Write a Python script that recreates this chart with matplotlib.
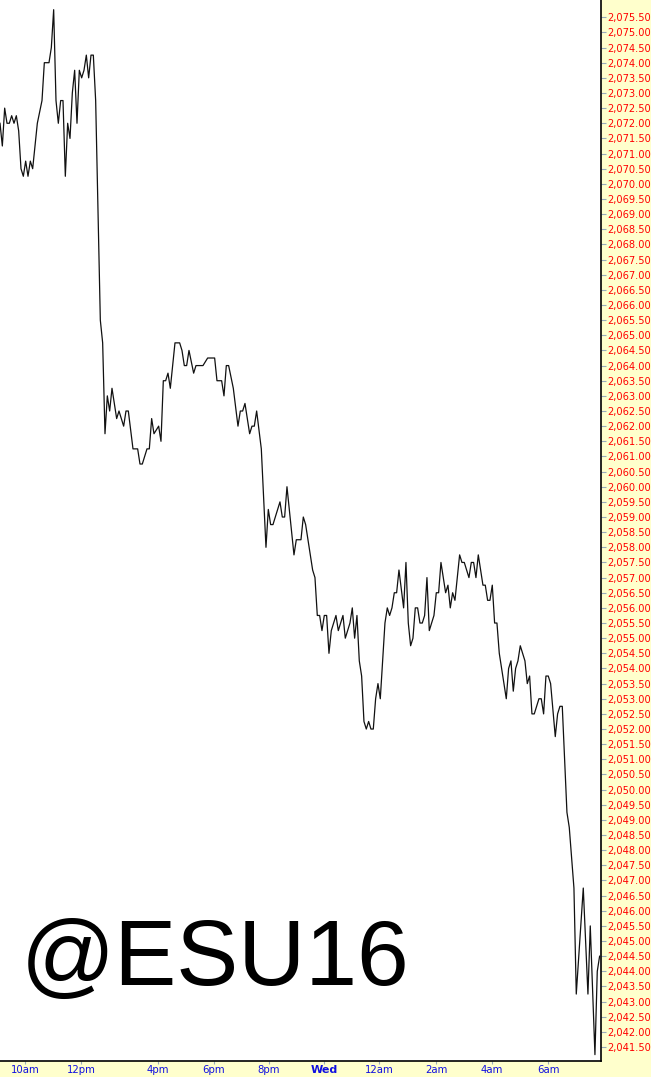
import matplotlib
matplotlib.use('Agg')
import matplotlib.pyplot as plt
from matplotlib.ticker import FixedLocator, FuncFormatter

# 5-minute bar index and price of each vertex
bars = [0, 1, 2, 3, 4, 5, 6, 7, 8, 9, 10, 11, 12, 13, 14, 16, 18, 19, 21, 22,
        23, 24, 25, 26, 27, 28, 29, 30, 31, 32, 33, 34, 35, 36, 37, 38, 39, 40, 41, 43,
        44, 45, 46, 47, 48, 50, 51, 53, 54, 55, 57, 59, 60, 61, 63, 64, 65, 66, 68, 69,
        70, 71, 72, 73, 75, 77, 78, 79, 80, 81, 83, 84, 87, 89, 92, 93, 95, 96, 97, 98,
        100, 102, 103, 104, 105, 107, 108, 109, 110, 112, 114, 115, 116, 117, 120, 121, 122, 123, 124, 126,
        127, 129, 130, 131, 134, 135, 136, 137, 138, 139, 140, 141, 142, 144, 145, 147, 148, 150, 151, 152,
        153, 154, 155, 156, 157, 158, 159, 160, 161, 162, 163, 165, 166, 167, 168, 169, 170, 171, 173, 174,
        175, 176, 177, 178, 179, 180, 181, 182, 183, 184, 186, 187, 188, 189, 191, 192, 193, 194, 195, 197,
        198, 199, 201, 202, 203, 204, 205, 207, 208, 209, 210, 211, 212, 213, 214, 217, 218, 219, 220, 221,
        222, 223, 225, 226, 227, 228, 229, 231, 232, 233, 234, 235, 236, 238, 239, 240, 241, 243, 244, 246,
        247, 250, 252, 253, 255, 256, 257]
prices = [2072.0, 2071.25, 2072.5, 2072.0, 2072.0, 2072.25, 2072.0, 2072.25, 2071.75, 2070.5,
          2070.25, 2070.75, 2070.25, 2070.75, 2070.5, 2072.0, 2072.75, 2074.0, 2074.0, 2074.5,
          2075.75, 2072.75, 2072.0, 2072.75, 2072.75, 2070.25, 2072.0, 2071.5, 2073.0, 2073.75,
          2072.0, 2073.75, 2073.5, 2073.75, 2074.25, 2073.5, 2074.25, 2074.25, 2072.75, 2065.5,
          2064.75, 2061.75, 2063.0, 2062.5, 2063.25, 2062.25, 2062.5, 2062.0, 2062.5, 2062.5,
          2061.25, 2061.25, 2060.75, 2060.75, 2061.25, 2061.25, 2062.25, 2061.75, 2062.0, 2061.5,
          2063.5, 2063.5, 2063.75, 2063.25, 2064.75, 2064.75, 2064.5, 2064.0, 2064.0, 2064.5,
          2063.75, 2064.0, 2064.0, 2064.25, 2064.25, 2063.5, 2063.5, 2063.0, 2064.0, 2064.0,
          2063.25, 2062.0, 2062.5, 2062.5, 2062.75, 2061.75, 2062.0, 2062.0, 2062.5, 2061.25,
          2058.0, 2059.25, 2058.75, 2058.75, 2059.5, 2059.0, 2059.0, 2060.0, 2059.25, 2057.75,
          2058.25, 2058.25, 2059.0, 2058.75, 2057.25, 2057.0, 2055.75, 2055.75, 2055.25, 2055.75,
          2055.75, 2054.5, 2055.25, 2055.75, 2055.25, 2055.75, 2055.0, 2055.5, 2056.0, 2055.0,
          2055.75, 2054.25, 2053.75, 2052.25, 2052.0, 2052.25, 2052.0, 2052.0, 2053.0, 2053.5,
          2053.0, 2055.5, 2056.0, 2055.75, 2056.0, 2056.5, 2056.5, 2057.25, 2056.0, 2057.5,
          2055.5, 2054.75, 2055.0, 2056.0, 2056.0, 2055.5, 2055.5, 2055.75, 2057.0, 2055.25,
          2055.75, 2056.5, 2056.5, 2057.5, 2056.5, 2056.75, 2056.0, 2056.5, 2056.25, 2057.75,
          2057.5, 2057.5, 2057.0, 2057.5, 2057.5, 2057.0, 2057.75, 2056.75, 2056.75, 2056.25,
          2056.25, 2056.75, 2055.5, 2055.5, 2054.5, 2053.0, 2054.0, 2054.25, 2053.25, 2054.0,
          2054.25, 2054.75, 2054.25, 2053.5, 2053.75, 2052.5, 2052.5, 2053.0, 2053.0, 2052.5,
          2053.75, 2053.75, 2053.5, 2051.75, 2052.5, 2052.75, 2052.75, 2049.25, 2048.75, 2046.75,
          2043.25, 2046.75, 2043.25, 2045.5, 2041.25, 2044.0, 2044.5]

# Time axis labels and where they sit (in bar units)
time_ticks = [10.7, 34.7, 67.7, 91.7, 115.3, 138.9, 162.4, 186.9, 210.9, 234.9]
time_labels = ['10am', '12pm', '4pm', '6pm', '8pm', 'Wed', '12am', '2am', '4am', '6am']

# Price axis labels every half point
price_ticks = [2041.5 + 0.5 * k for k in range(69)]

symbol = '@ESU16'

fig = plt.figure(figsize=(6.51, 10.77), dpi=100, facecolor='#FFFFCC')
ax = fig.add_axes([0.0, 0.01486, 0.9232, 0.98514])
ax.set_facecolor('white')

ax.plot(bars, prices, color='#111111', linewidth=0.9)
ax.set_xlim(0, 257.6)
ax.set_ylim(2041.04, 2076.07)

# Price axis on the right in red
ax.yaxis.tick_right()
ax.yaxis.set_major_locator(FixedLocator(price_ticks))
ax.yaxis.set_major_formatter(FuncFormatter(lambda v, _: f'{v:,.2f}'))
ax.tick_params(axis='y', colors='#99AABB', labelcolor='#FF0000', labelsize=7.1,
               length=3.5, width=0.8, pad=1)

# Time axis at the bottom in blue
ax.set_xticks(time_ticks)
ax.set_xticklabels(time_labels)
ax.tick_params(axis='x', colors='#99AABB', labelcolor='#1010E0', labelsize=7.3,
               length=2, width=0.8, pad=1)
for label in ax.get_xticklabels():
    if label.get_text() == 'Wed':
        label.set_fontweight('bold')
        label.set_fontsize(8)

for side in ['top', 'left']:
    ax.spines[side].set_visible(False)
for side in ['right', 'bottom']:
    ax.spines[side].set_color('black')
    ax.spines[side].set_linewidth(1.2)

# Big symbol watermark in the lower left corner
ax.text(0.034, 0.0716, symbol, transform=ax.transAxes, fontsize=67,
        family='Liberation Sans', color='black', ha='left', va='baseline')

fig.savefig('out.png', dpi=100, facecolor=fig.get_facecolor())
